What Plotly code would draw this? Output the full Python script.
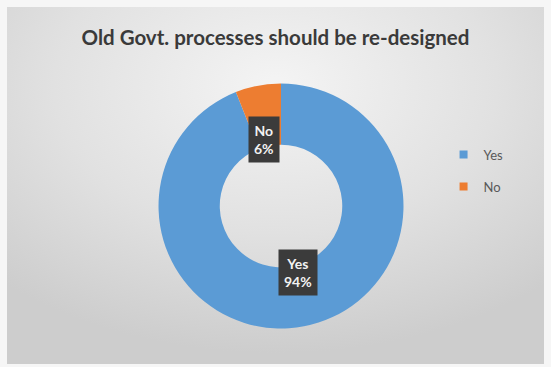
import math
import base64
import plotly.graph_objects as go

# Survey answers
labels = ["Yes", "No"]
shares = [94, 6]
colors = ["#5B9BD5", "#ED7D31"]

title_text = "Old Govt. processes should be re-designed"

W, H = 551, 367
pie_domain_x = [0.2877, 0.7323]
pie_domain_y = [0.1049, 0.7725]
hole = 0.5
font_family = "Lato, Carlito, sans-serif"

# soft grey backdrop with a light centre
bg_svg = f"""<svg xmlns='http://www.w3.org/2000/svg' width='{W}' height='{H}'>
<defs><radialGradient id='g' cx='50%' cy='22%' r='75%'>
<stop offset='0%' stop-color='#f4f4f4'/><stop offset='55%' stop-color='#e1e1e1'/>
<stop offset='100%' stop-color='#cdcdcd'/></radialGradient></defs>
<rect x='0' y='0' width='{W}' height='{H}' fill='#f6f6f6'/>
<rect x='7' y='7' width='{W-14}' height='{H-10}' fill='url(#g)'/>
</svg>"""
bg_uri = "data:image/svg+xml;base64," + base64.b64encode(bg_svg.encode()).decode()

fig = go.Figure(
    go.Pie(
        labels=labels,
        values=shares,
        hole=hole,
        sort=False,
        direction="clockwise",
        rotation=0,
        marker=dict(colors=colors, line=dict(width=0)),
        textinfo="none",
        domain=dict(x=pie_domain_x, y=pie_domain_y),
        showlegend=False,
    )
)

# Legend entries as separate groups so they can be spaced apart
for lab, col in zip(labels, colors):
    fig.add_trace(go.Scatter(
        x=[None], y=[None], mode="markers", name=lab, legendgroup=lab,
        marker=dict(symbol="square", size=8, color=col),
        hoverinfo="skip",
    ))

# Dark callout boxes placed at the middle of each ring segment
cx = (pie_domain_x[0] + pie_domain_x[1]) / 2 * W
cy = (pie_domain_y[0] + pie_domain_y[1]) / 2 * H
r_out = min((pie_domain_x[1] - pie_domain_x[0]) * W, (pie_domain_y[1] - pie_domain_y[0]) * H) / 2
r_mid = r_out * (1 + hole) / 2
total = sum(shares)
cum = 0
for lab, val in zip(labels, shares):
    mid = (cum + val / 2) / total * 2 * math.pi
    cum += val
    px = cx + r_mid * math.sin(mid)
    py = cy + r_mid * math.cos(mid)
    fig.add_annotation(
        x=px / W, y=py / H, xref="paper", yref="paper",
        text=f"<b>{lab}<br>{round(val / total * 100)}%</b>",
        showarrow=False,
        font=dict(family=font_family, size=14, color="#f2f2f2"),
        bgcolor="#3b3b3b",
        borderpad=5,
        align="center",
    )

fig.update_layout(
    width=W, height=H,
    margin=dict(l=0, r=0, t=0, b=0),
    paper_bgcolor="#e6e6e6",
    plot_bgcolor="rgba(0,0,0,0)",
    xaxis=dict(visible=False),
    yaxis=dict(visible=False),
    images=[dict(source=bg_uri, xref="paper", yref="paper", x=0, y=1,
                 sizex=1, sizey=1, xanchor="left", yanchor="top",
                 sizing="stretch", layer="below")],
    title=dict(
        text=f"<b>{title_text}</b>",
        x=0.5, xanchor="center", y=1 - 38 / H, yanchor="middle",
        font=dict(family=font_family, size=20.5, color="#3a3a3a"),
    ),
    legend=dict(
        x=0.805, xanchor="left", y=0.535, yanchor="middle",
        font=dict(family=font_family, size=13, color="#595959"),
        bgcolor="rgba(0,0,0,0)",
        tracegroupgap=12,
        itemwidth=30,
    ),
)

fig.write_html("out.html")
